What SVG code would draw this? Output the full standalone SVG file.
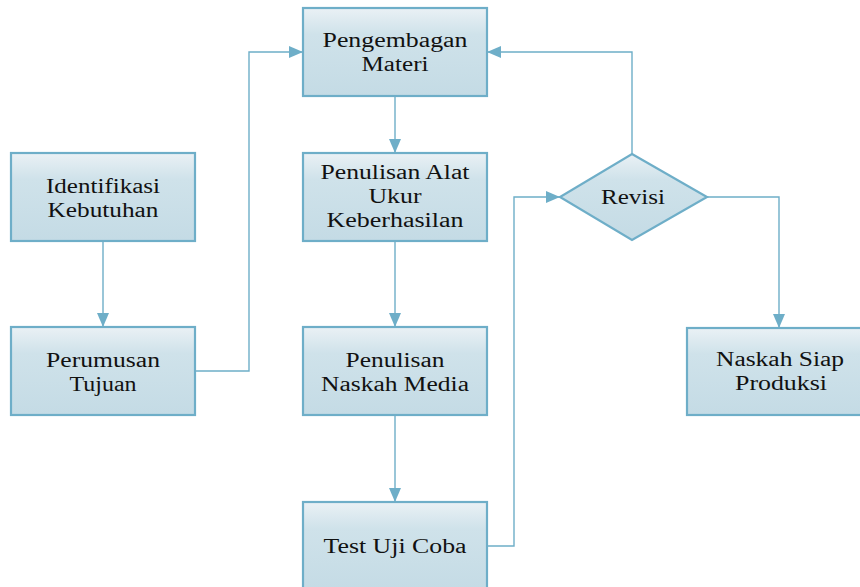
<svg xmlns="http://www.w3.org/2000/svg" width="860" height="587" viewBox="0 0 860 587">
<style>
.box{fill:url(#g);stroke:#6eaec8;stroke-width:2.2}
.t{font-family:"Liberation Serif","Times New Roman",serif;font-size:20px;fill:#111;text-anchor:middle}
.c{fill:none;stroke:#6eaec8;stroke-width:1.4}
</style>
<defs>
<linearGradient id="g" x1="0" y1="0" x2="0" y2="1">
<stop offset="0" stop-color="#eaf1f5"/>
<stop offset="0.3" stop-color="#cfe2ea"/>
<stop offset="1" stop-color="#c4dbe5"/>
</linearGradient>
<marker id="a" markerWidth="14" markerHeight="12" refX="14" refY="6" orient="auto" markerUnits="userSpaceOnUse">
<path d="M0,0 L14,6 L0,12 Z" fill="#6eaec8"/>
</marker>
</defs>
<g id="connectors">
<path class="c" d="M103,241 V327" marker-end="url(#a)"/>
<path class="c" d="M195,371 H249 V52 H303" marker-end="url(#a)"/>
<path class="c" d="M395,96 V153" marker-end="url(#a)"/>
<path class="c" d="M395,241 V327" marker-end="url(#a)"/>
<path class="c" d="M395,415 V502" marker-end="url(#a)"/>
<path class="c" d="M487,546 H514 V197 H560" marker-end="url(#a)"/>
<path class="c" d="M632,154 V52 H487" marker-end="url(#a)"/>
<path class="c" d="M707,197 H779 V328" marker-end="url(#a)"/>
</g>
<g id="identifikasi">
<rect class="box" x="11" y="153" width="184" height="88"/>
<text class="t" x="103" y="193" textLength="114" lengthAdjust="spacingAndGlyphs">Identifikasi</text>
<text class="t" x="103" y="217" textLength="111" lengthAdjust="spacingAndGlyphs">Kebutuhan</text>
</g>
<g id="perumusan">
<rect class="box" x="11" y="327" width="184" height="88"/>
<text class="t" x="103" y="367" textLength="114" lengthAdjust="spacingAndGlyphs">Perumusan</text>
<text class="t" x="103" y="391" textLength="67" lengthAdjust="spacingAndGlyphs">Tujuan</text>
</g>
<g id="pengembagan">
<rect class="box" x="303" y="8" width="184" height="88"/>
<text class="t" x="395" y="47" textLength="145" lengthAdjust="spacingAndGlyphs">Pengembagan</text>
<text class="t" x="395" y="71" textLength="67" lengthAdjust="spacingAndGlyphs">Materi</text>
</g>
<g id="alat">
<rect class="box" x="303" y="153" width="184" height="88"/>
<text class="t" x="395" y="179" textLength="149" lengthAdjust="spacingAndGlyphs">Penulisan Alat</text>
<text class="t" x="395" y="203" textLength="53" lengthAdjust="spacingAndGlyphs">Ukur</text>
<text class="t" x="395" y="227" textLength="137" lengthAdjust="spacingAndGlyphs">Keberhasilan</text>
</g>
<g id="naskah-media">
<rect class="box" x="303" y="327" width="184" height="88"/>
<text class="t" x="395" y="367" textLength="99" lengthAdjust="spacingAndGlyphs">Penulisan</text>
<text class="t" x="395" y="391" textLength="148" lengthAdjust="spacingAndGlyphs">Naskah Media</text>
</g>
<g id="test">
<rect class="box" x="303" y="502" width="184" height="90"/>
<text class="t" x="395" y="553" textLength="143" lengthAdjust="spacingAndGlyphs">Test Uji Coba</text>
</g>
<g id="revisi">
<path class="box" d="M632,154 L707,197 L632,240 L560,197 Z"/>
<text class="t" x="633" y="204" textLength="64" lengthAdjust="spacingAndGlyphs">Revisi</text>
</g>
<g id="siap">
<rect class="box" x="687" y="328" width="180" height="87"/>
<text class="t" x="780" y="366" textLength="128" lengthAdjust="spacingAndGlyphs">Naskah Siap</text>
<text class="t" x="781" y="390" textLength="92" lengthAdjust="spacingAndGlyphs">Produksi</text>
</g>
</svg>
